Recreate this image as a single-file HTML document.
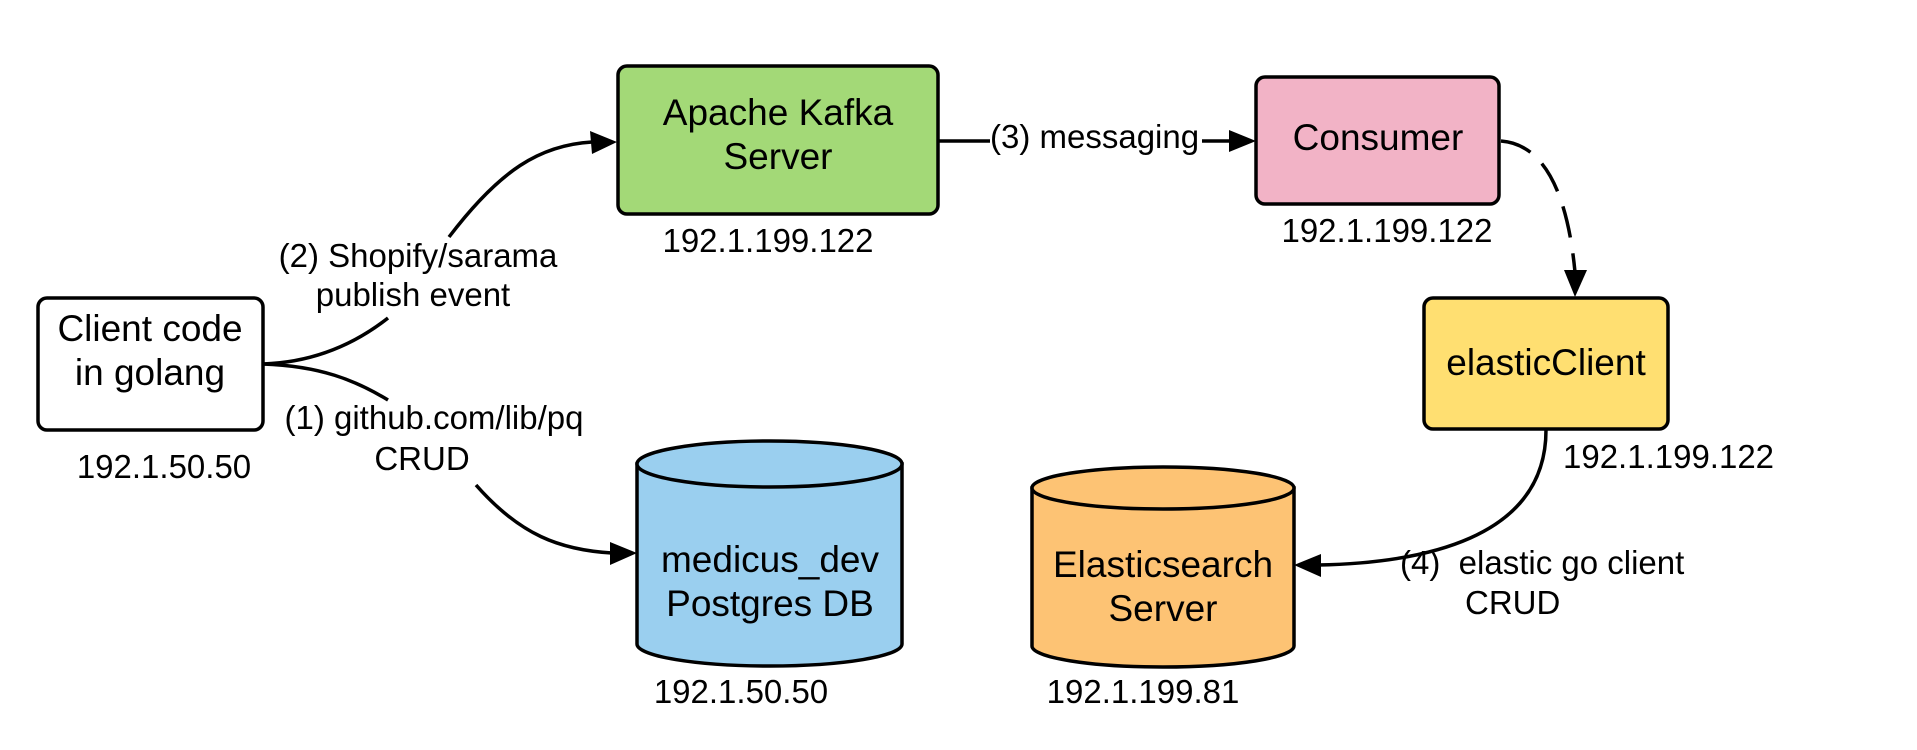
<!DOCTYPE html>
<html><head><meta charset="utf-8"><style>
html,body{margin:0;padding:0;background:#fff;}
svg{display:block;}
text{font-family:"Liberation Sans",sans-serif;fill:#000;}
.n{font-size:37px;text-anchor:middle;}
.l{font-size:33px;}
.c{text-anchor:middle;}
</style></head><body>
<svg width="1917" height="750" viewBox="0 0 1917 750" xmlns="http://www.w3.org/2000/svg">
<g stroke="#000" stroke-width="3.5" fill="none">
<path d="M263 364 C320 362 360 340 388 318"/>
<path d="M449 237 C500 170 540 145 592 142"/>
<path d="M263 364 C320 366 355 380 388 400"/>
<path d="M476 485 C520 535 560 550 612 553"/>
<line x1="938" y1="141" x2="990" y2="141"/>
<line x1="1202" y1="141" x2="1232" y2="141"/>
<path d="M1501 141 C1555 145 1570 220 1575 272" stroke-dasharray="32 16"/>
<path d="M1546 430 C1546 540 1420 563 1318 565"/>
</g>
<g fill="#000">
<polygon points="617,142 590,131 592,154"/>
<polygon points="637,553 610,542 610,565"/>
<polygon points="1256,141 1229,130 1229,152"/>
<polygon points="1575,297 1564,270 1587,270"/>
<polygon points="1294,565 1321,554 1321,577"/>
</g>
<rect x="38" y="298" width="225" height="132" rx="9" fill="#fff" stroke="#000" stroke-width="3.5"/>
<rect x="618" y="66" width="320" height="148" rx="9" fill="#a3d977" stroke="#000" stroke-width="3.5"/>
<rect x="1256" y="77" width="243" height="127" rx="9" fill="#f2b3c6" stroke="#000" stroke-width="3.5"/>
<rect x="1424" y="298" width="244" height="131" rx="9" fill="#ffdf71" stroke="#000" stroke-width="3.5"/>
<path d="M637 464 L637 644 A132.5 22 0 0 0 902 644 L902 464 Z" fill="#9acfef" stroke="#000" stroke-width="3.5"/>
<ellipse cx="769.5" cy="464" rx="132.5" ry="23" fill="#9acfef" stroke="#000" stroke-width="3.5"/>
<path d="M1032 488 L1032 646 A131 21 0 0 0 1294 646 L1294 488 Z" fill="#fdc374" stroke="#000" stroke-width="3.5"/>
<ellipse cx="1163" cy="488" rx="131" ry="21" fill="#fdc374" stroke="#000" stroke-width="3.5"/>
<text class="n" x="150" y="341">Client code</text>
<text class="n" x="150" y="385">in golang</text>
<text class="n" x="778" y="125">Apache Kafka</text>
<text class="n" x="778" y="169">Server</text>
<text class="n" x="1378" y="150">Consumer</text>
<text class="n" x="1546" y="375">elasticClient</text>
<text class="n" x="770" y="572">medicus_dev</text>
<text class="n" x="770" y="616">Postgres DB</text>
<text class="n" x="1163" y="577">Elasticsearch</text>
<text class="n" x="1163" y="621">Server</text>
<text class="l c" x="164" y="478">192.1.50.50</text>
<text class="l c" x="768" y="252">192.1.199.122</text>
<text class="l c" x="1387" y="242">192.1.199.122</text>
<text class="l" x="1563" y="468">192.1.199.122</text>
<text class="l c" x="741" y="703">192.1.50.50</text>
<text class="l c" x="1143" y="703">192.1.199.81</text>
<text class="l c" x="418" y="267">(2) Shopify/sarama</text>
<text class="l c" x="413" y="306">publish event</text>
<text class="l c" x="434" y="429">(1) github.com/lib/pq</text>
<text class="l c" x="422" y="470">CRUD</text>
<text class="l" x="990" y="148">(3) messaging</text>
<text class="l" x="1400" y="574" xml:space="preserve">(4)  elastic go client</text>
<text class="l" x="1465" y="614">CRUD</text>
</svg>
</body></html>
